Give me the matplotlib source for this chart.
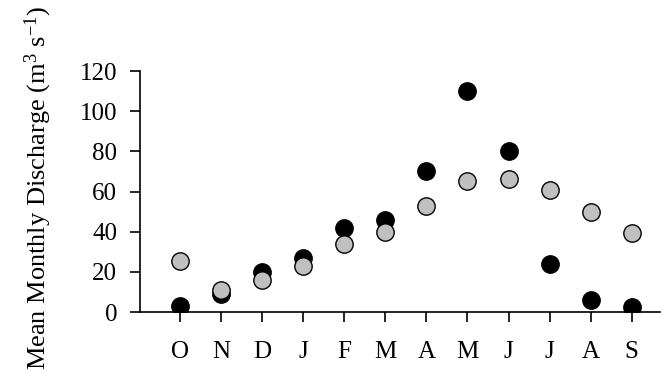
import matplotlib
matplotlib.use("Agg")
import matplotlib.pyplot as plt

# months, water year Oct -> Sep
months = ['O', 'N', 'D', 'J', 'F', 'M', 'A', 'M', 'J', 'J', 'A', 'S']
black_vals = [3, 9, 20, 27, 42, 46, 70, 110, 80, 24, 6, 2.5]
grey_vals = [25.5, 11, 16, 23, 34, 40, 53, 65.5, 66.5, 61, 50, 39.5]
y_ticks = [0, 20, 40, 60, 80, 100, 120]

plt.rcParams['font.family'] = 'serif'
plt.rcParams['font.serif'] = ['Liberation Serif', 'DejaVu Serif']
plt.rcParams['mathtext.fontset'] = 'custom'
plt.rcParams['mathtext.rm'] = 'Liberation Serif'
plt.rcParams['mathtext.it'] = 'Liberation Serif:italic'

fig = plt.figure(figsize=(6.61, 3.72), dpi=100)
ax = fig.add_axes([0.212, 0.161, 0.786, 0.648])

x = list(range(len(months)))
ax.plot(x, black_vals, 'o', color='black', markersize=12.5, zorder=3)
ax.plot(x, grey_vals, 'o', markerfacecolor='#c0c0c0', markeredgecolor='black',
        markeredgewidth=1.0, markersize=12.5, zorder=4)

ax.set_xlim(-0.97, 11.68)
ax.set_ylim(0, 120)
ax.set_xticks(x)
ax.set_xticklabels(months)
ax.set_yticks(y_ticks)
ax.tick_params(axis='both', labelsize=18, length=7.5, width=1.2, direction='out')
ax.tick_params(axis='y', pad=9)
ax.tick_params(axis='x', pad=13)

for s in ['top', 'right']:
    ax.spines[s].set_visible(False)
for s in ['left', 'bottom']:
    ax.spines[s].set_linewidth(1.2)
ax.spines['left'].set_bounds(0, 120)

ax.set_ylabel('Mean Monthly Discharge (m$^{3}$ s$^{-1}$)', fontsize=19)
ax.yaxis.set_label_coords(-0.165, 0.515)

fig.savefig('out.png', dpi=100)
